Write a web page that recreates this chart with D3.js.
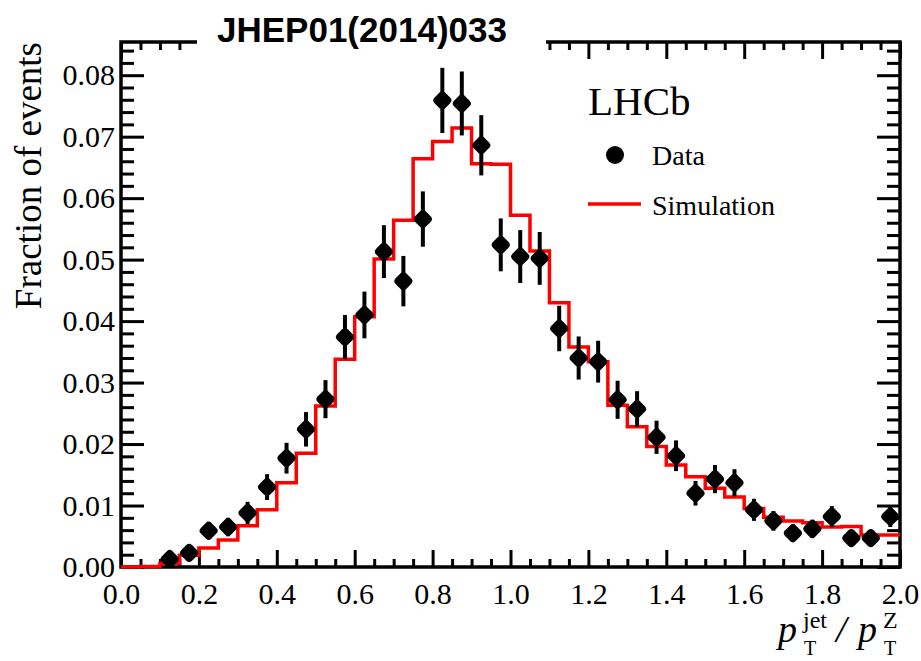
<!DOCTYPE html>
<html>
<head>
<meta charset="utf-8">
<script src="https://cdn.jsdelivr.net/npm/d3@7"></script>
<style>
  body { margin: 0; background: #fff; }
  svg { display: block; }
</style>
</head>
<body>
<div id="chart"></div>
<script>
// bin edges of the simulation histogram (width 0.05)
var simEdges = d3.range(0, 40).map(function (i) { return i * 0.05; });
var simValues = [0.0000, 0.0001, 0.0006, 0.0019, 0.0031, 0.0044, 0.0067, 0.0093, 0.0137, 0.0185,
    0.0262, 0.0338, 0.0407, 0.0501, 0.0564, 0.0664, 0.0692, 0.0714, 0.0656, 0.0655,
    0.0572, 0.0514, 0.0430, 0.0358, 0.0334, 0.0263, 0.0228, 0.0196, 0.0166, 0.0147,
    0.0128, 0.0114, 0.0095, 0.0081, 0.0075, 0.0072, 0.0065, 0.0066, 0.0052, 0.0052];

// data points (bin centres)
var dataX = [0.125, 0.175, 0.225, 0.275, 0.325, 0.375, 0.425, 0.475, 0.525, 0.575,
    0.625, 0.675, 0.725, 0.775, 0.825, 0.875, 0.925, 0.975, 1.025, 1.075,
    1.125, 1.175, 1.225, 1.275, 1.325, 1.375, 1.425, 1.475, 1.525, 1.575,
    1.625, 1.675, 1.725, 1.775, 1.825, 1.875, 1.925, 1.975];
var dataY = [0.0013, 0.0023, 0.0059, 0.0065, 0.0088, 0.0130, 0.0177, 0.0224, 0.0273, 0.0374,
    0.0410, 0.0513, 0.0465, 0.0566, 0.0759, 0.0754, 0.0686, 0.0524, 0.0505, 0.0502,
    0.0388, 0.0340, 0.0334, 0.0272, 0.0257, 0.0211, 0.0181, 0.0120, 0.0143, 0.0137,
    0.0093, 0.0075, 0.0055, 0.0062, 0.0082, 0.0047, 0.0047, 0.0082];
var dataErr = [0.0007, 0.0009, 0.0014, 0.0015, 0.0018, 0.0021, 0.0025, 0.0028, 0.0031, 0.0036,
    0.0038, 0.0043, 0.0041, 0.0045, 0.0053, 0.0052, 0.0049, 0.0043, 0.0043, 0.0043,
    0.0037, 0.0035, 0.0034, 0.0031, 0.0029, 0.0027, 0.0025, 0.0020, 0.0023, 0.0022,
    0.0018, 0.0016, 0.0014, 0.0015, 0.0017, 0.0013, 0.0013, 0.0017];

var xMajor = [0.0, 0.2, 0.4, 0.6, 0.8, 1.0, 1.2, 1.4, 1.6, 1.8, 2.0];
var yMajor = [0.00, 0.01, 0.02, 0.03, 0.04, 0.05, 0.06, 0.07, 0.08];

var W = 921, H = 661;
var margin = { left: 121, right: 900, top: 42, bottom: 567 };

var serif = "'Liberation Serif', 'Times New Roman', serif";

var x = d3.scaleLinear().domain([0, 2]).range([margin.left, margin.right]);
var y = d3.scaleLinear().domain([0, 0.0854]).range([margin.bottom, margin.top]);

var svg = d3.select("#chart").append("svg")
    .attr("width", W)
    .attr("height", H);

// minor tick values
var xMinor = d3.range(0, 41).map(function (i) { return i * 0.05; })
    .filter(function (v) { return Math.abs(v * 5 - Math.round(v * 5)) > 1e-6; });
var yMinor = d3.range(0, 43).map(function (i) { return i * 0.002; })
    .filter(function (v) { return Math.abs(v * 100 - Math.round(v * 100)) > 1e-6; });

function styleAxis(g) {
    g.attr("font-size", null).attr("font-family", null);
    g.select(".domain").remove();
    g.selectAll(".tick line").attr("stroke", "#000").attr("stroke-width", 3);
    g.selectAll(".tick text")
        .attr("fill", "#000")
        .style("font-family", serif)
        .style("font-size", "30px");
}

// bottom axis
svg.append("g").attr("transform", "translate(0," + margin.bottom + ")")
    .call(d3.axisBottom(x).tickValues(xMinor).tickSize(-8).tickFormat(""))
    .call(styleAxis);
svg.append("g").attr("transform", "translate(0," + margin.bottom + ")")
    .call(d3.axisBottom(x).tickValues(xMajor).tickSize(-17).tickPadding(16).tickFormat(d3.format(".1f")))
    .call(styleAxis);

// top axis
svg.append("g").attr("transform", "translate(0," + margin.top + ")")
    .call(d3.axisTop(x).tickValues(xMinor).tickSize(-8).tickFormat(""))
    .call(styleAxis);
svg.append("g").attr("transform", "translate(0," + margin.top + ")")
    .call(d3.axisTop(x).tickValues(xMajor).tickSize(-17).tickFormat(""))
    .call(styleAxis);

// left axis
svg.append("g").attr("transform", "translate(" + margin.left + ",0)")
    .call(d3.axisLeft(y).tickValues(yMinor).tickSize(-13).tickFormat(""))
    .call(styleAxis);
svg.append("g").attr("transform", "translate(" + margin.left + ",0)")
    .call(d3.axisLeft(y).tickValues(yMajor).tickSize(-23).tickPadding(6).tickFormat(d3.format(".2f")))
    .call(styleAxis);

// right axis
svg.append("g").attr("transform", "translate(" + margin.right + ",0)")
    .call(d3.axisRight(y).tickValues(yMinor).tickSize(-13).tickFormat(""))
    .call(styleAxis);
svg.append("g").attr("transform", "translate(" + margin.right + ",0)")
    .call(d3.axisRight(y).tickValues(yMajor).tickSize(-23).tickFormat(""))
    .call(styleAxis);

// frame
svg.append("rect")
    .attr("x", margin.left)
    .attr("y", margin.top)
    .attr("width", margin.right - margin.left)
    .attr("height", margin.bottom - margin.top)
    .attr("fill", "none")
    .attr("stroke", "#000")
    .attr("stroke-width", 3.5);

// simulation histogram
var simPts = simEdges.map(function (e, i) { return [e, simValues[i]]; });
simPts.push([2.0, simValues[simValues.length - 1]]);

var step = d3.line()
    .x(function (d) { return x(d[0]); })
    .y(function (d) { return y(d[1]); })
    .curve(d3.curveStepAfter);

svg.append("path")
    .datum(simPts)
    .attr("d", step)
    .attr("fill", "none")
    .attr("stroke", "#ff0000")
    .attr("stroke-width", 3.5);

// data points
var pts = dataX.map(function (v, i) { return { x: v, y: dataY[i], e: dataErr[i] }; });

var points = svg.append("g").attr("class", "data")
    .selectAll("g")
    .data(pts)
    .enter().append("g");

points.append("line")
    .attr("x1", function (d) { return x(d.x); })
    .attr("x2", function (d) { return x(d.x); })
    .attr("y1", function (d) { return y(d.y - d.e); })
    .attr("y2", function (d) { return y(d.y + d.e); })
    .attr("stroke", "#000")
    .attr("stroke-width", 4);

points.append("rect")
    .attr("x", -7.5)
    .attr("y", -7.5)
    .attr("width", 15)
    .attr("height", 15)
    .attr("rx", 4)
    .attr("fill", "#000")
    .attr("transform", function (d) {
        return "translate(" + x(d.x) + "," + y(d.y) + ") rotate(45)";
    });

// legend
svg.append("text")
    .attr("x", 588)
    .attr("y", 115)
    .style("font-family", serif)
    .style("font-size", "41px")
    .text("LHCb");

svg.append("circle")
    .attr("cx", 615)
    .attr("cy", 155)
    .attr("r", 9)
    .attr("fill", "#000");

svg.append("text")
    .attr("x", 652)
    .attr("y", 165)
    .style("font-family", serif)
    .style("font-size", "28px")
    .text("Data");

svg.append("line")
    .attr("x1", 588)
    .attr("x2", 641)
    .attr("y1", 204)
    .attr("y2", 204)
    .attr("stroke", "#ff0000")
    .attr("stroke-width", 3.5);

svg.append("text")
    .attr("x", 652)
    .attr("y", 215)
    .style("font-family", serif)
    .style("font-size", "28px")
    .text("Simulation");

// y title
svg.append("text")
    .attr("transform", "translate(41," + margin.top + ") rotate(-90)")
    .attr("text-anchor", "end")
    .style("font-family", serif)
    .style("font-size", "37px")
    .text("Fraction of events");

// x title: p_T^jet / p_T^Z
var xt = svg.append("g").style("font-family", serif);
xt.append("text").attr("x", 778).attr("y", 642)
    .style("font-size", "38px").style("font-style", "italic").text("p");
xt.append("text").attr("x", 803).attr("y", 628)
    .style("font-size", "24px").text("jet");
xt.append("text").attr("x", 804).attr("y", 655)
    .style("font-size", "20px").text("T");
xt.append("text").attr("x", 836).attr("y", 642)
    .style("font-size", "38px").style("font-style", "italic").text("/");
xt.append("text").attr("x", 858).attr("y", 642)
    .style("font-size", "38px").style("font-style", "italic").text("p");
xt.append("text").attr("x", 883).attr("y", 628)
    .style("font-size", "24px").text("Z");
xt.append("text").attr("x", 884).attr("y", 655)
    .style("font-size", "20px").text("T");

// journal reference banner
svg.append("rect")
    .attr("x", 197)
    .attr("y", 0)
    .attr("width", 349)
    .attr("height", 59)
    .attr("fill", "#fff");

svg.append("text")
    .attr("x", 217)
    .attr("y", 42)
    .style("font-family", "'Liberation Sans', Arial, sans-serif")
    .style("font-weight", "bold")
    .style("font-size", "35px")
    .text("JHEP01(2014)033");
</script>
</body>
</html>
